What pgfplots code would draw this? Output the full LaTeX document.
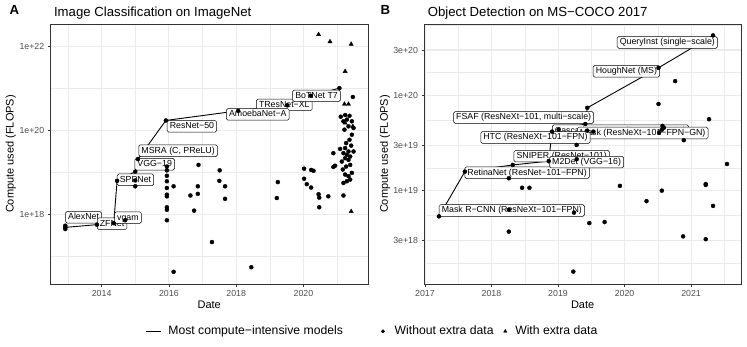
\documentclass[border=0pt]{standalone}
\usepackage{pgfplots}
\pgfplotsset{compat=1.18}
\usepackage{fontspec}
\setmainfont{Liberation Sans}
\definecolor{gridc}{HTML}{EBEBEB}
\definecolor{gtw}{HTML}{333333}
\definecolor{gth}{HTML}{4D4D4D}
\tikzset{lab/.style={draw=black, fill=white, rounded corners=1.5pt, line width=0.5pt,
  inner xsep=2.6pt, inner ysep=1.8pt, text height=6.4pt, text depth=1.6pt,
  font=\fontsize{8.8}{10}\selectfont, anchor=west}}
\pgfplotsset{
 base/.style={
  scale only axis, height=260pt,
  axis line style={gtw, line width=0.5pt},
  tick style={gtw, line width=0.5pt},
  major tick length=2.75pt, minor tick length=0pt, tick align=outside,
  xtick pos=bottom, ytick pos=left,
  xmajorgrids, ymajorgrids, xminorgrids, yminorgrids,
  major grid style={gridc, line width=1.07pt},
  minor grid style={gridc, line width=0.53pt},
  ticklabel style={font=\fontsize{8.8}{10}\selectfont, text=gth},
  xlabel={Date}, ylabel={Compute used (FLOPS)},
  every axis x label/.style={at={(axis description cs:0.5,-0.081)}, anchor=center, font=\fontsize{11}{13}\selectfont},
  every axis y label/.style={at={(axis description cs:-0.125,0.5)}, rotate=90, anchor=center, font=\fontsize{11}{13}\selectfont},
  clip=true,
 },
 dots/.style={only marks, mark=*, mark size=2pt, mark options={draw=black, fill=black}, forget plot},
 tris/.style={only marks, mark=triangle*, mark size=2.4pt, mark options={draw=black, fill=black}, forget plot},
 front/.style={black, line width=0.9pt, mark=none, forget plot},
 legline/.style={legend image code/.code={\path[draw=none, fill=none] (0pt,0pt) -- (22.7pt,0pt); \draw[black, line width=0.9pt] (0pt,0pt) -- (15pt,0pt);}},
 legdot/.style={legend image code/.code={\path[draw=none, fill=none] (0pt,0pt) -- (23.4pt,0pt); \draw[##1] plot coordinates {(11.7pt,0pt)};}},
 legtri/.style={legend image code/.code={\path[draw=none, fill=none] (0pt,0pt) -- (20pt,0pt); \draw[##1] plot coordinates {(10pt,0pt)};}},
}
\begin{document}
\begin{tikzpicture}
\useasboundingbox (0,0) rectangle (747pt,347pt);
\node[anchor=base west, font=\bfseries\fontsize{13.2}{15}\selectfont] at (6pt,332pt) {A};
\node[anchor=base west, font=\fontsize{13.2}{15}\selectfont] at (50.5pt,330.5pt) {Image Classification on ImageNet};
\node[anchor=base west, font=\bfseries\fontsize{13.2}{15}\selectfont] at (377pt,332pt) {B};
\node[anchor=base west, font=\fontsize{13.2}{15}\selectfont] at (424.3pt,330.5pt) {Object Detection on MS−COCO 2017};

% ---------------- Panel A ----------------
\begin{axis}[base, at={(50.5pt,63pt)}, anchor=south west, width=317.5pt,
  xmin=2012.48, xmax=2021.92, ymin=16.34, ymax=22.54,
  xtick={2014,2016,2018,2020}, xticklabels={2014,2016,2018,2020},
  minor xtick={2013,2015,2017,2019,2021},
  ytick={18,20,22}, yticklabels={1e+18,1e+20,1e+22},
  minor ytick={17,19,21},
  legend columns=3,
  legend style={at={(axis description cs:0.2976,-0.182)}, anchor=west, draw=none, fill=none,
    font=\fontsize{12.2}{14}\selectfont, inner sep=0pt, nodes={inner sep=0pt},
    /tikz/column 2/.style={column sep=28.3pt},
    /tikz/column 4/.style={column sep=1.6pt}},
  legend cell align=left,
]
\addlegendimage{legline}
\addlegendentry{Most compute−intensive models}
\addlegendimage{only marks, mark=*, mark size=1.65pt, mark options={draw=black, fill=black}, legdot}
\addlegendentry{Without extra data}
\addlegendimage{only marks, mark=triangle*, mark size=1.9pt, mark options={draw=black, fill=black}, legtri}
\addlegendentry{With extra data}

\addplot[front] coordinates {(2012.92,17.69) (2013.86,17.755) (2014.36,17.79) (2014.46,18.80) (2015.00,19.02) (2015.08,19.32) (2015.91,20.24) (2018.06,20.47) (2019.52,20.60) (2020.22,20.83) (2021.07,21.01)};

\node[lab] at (axis cs:2012.92,17.93) {AlexNet};
\node[lab] at (axis cs:2013.863,17.779) {ZFNet};
\node[lab] at (axis cs:2014.377,17.921) {vgam};
\node[lab] at (axis cs:2014.457,18.826) {SPPNet};
\node[lab] at (axis cs:2014.980,19.195) {VGG−19};
\node[lab] at (axis cs:2015.099,19.517) {MSRA (C, PReLU)};
\node[lab] at (axis cs:2015.942,20.10) {ResNet−50};
\node[lab] at (axis cs:2018.595,20.612) {TResNet−XL};
\node[lab] at (axis cs:2017.704,20.386) {AmoebaNet−A};
\node[lab] at (axis cs:2019.673,20.826) {BoTNet T7};

\addplot[dots] coordinates {(2012.92,17.69) (2013.86,17.755) (2014.36,17.79) (2014.46,18.80) (2015.00,19.02) (2015.08,19.32) (2015.91,20.24) (2018.06,20.47) (2019.52,20.60) (2020.22,20.83) (2021.07,21.01)};
\addplot[dots] coordinates {
(2012.92,17.73) (2012.92,17.65) (2014.70,17.86)
(2015.00,18.81) (2015.00,18.67)
(2015.94,19.14) (2015.94,19.05) (2015.94,18.92) (2015.94,18.79) (2015.94,18.63) (2015.94,18.47) (2015.94,18.43) (2015.94,18.17) (2015.94,18.11) (2015.94,17.86)
(2016.14,18.67) (2016.14,16.63) (2016.88,19.18) (2016.64,18.45) (2016.75,18.09) (2016.86,18.67) (2016.86,18.49)
(2017.51,19.05) (2017.50,18.80) (2017.67,18.67) (2017.67,18.37) (2017.28,17.34) (2018.45,16.74)
(2019.24,18.77) (2019.21,18.39)
(2020.02,19.09) (2020.02,18.85) (2020.10,18.72) (2020.23,19.06) (2020.30,19.04) (2020.23,18.64) (2020.45,18.48) (2020.47,18.40) (2020.47,18.17) (2020.74,18.43) (2021.19,18.45)
(2021.47,20.80) (2021.11,20.33) (2021.24,20.37) (2021.37,20.35) (2021.29,20.26) (2021.19,20.22) (2021.44,20.22) (2021.34,20.10) (2021.22,20.02) (2021.49,20.06)
(2021.44,19.90) (2021.37,19.78) (2021.27,19.70) (2021.42,19.64) (2021.24,19.58) (2021.09,19.56) (2021.34,19.50) (2021.49,19.50) (2021.19,19.46) (2021.29,19.42)
(2021.39,19.38) (2020.89,19.46) (2021.24,19.34) (2021.34,19.30) (2021.14,19.26) (2020.94,19.16) (2020.89,19.13) (2021.27,19.14) (2021.39,19.18) (2021.17,19.07)
(2021.44,18.99) (2021.24,18.95) (2021.39,18.83) (2021.29,18.79) (2021.19,18.75) (2021.34,18.91)
};
\addplot[tris] coordinates {(2020.45,22.29) (2020.79,22.12) (2021.42,22.06) (2021.24,21.41) (2021.22,20.63) (2021.34,20.63) (2021.24,20.18) (2021.47,20.10) (2021.42,18.07)};
\end{axis}

% ---------------- Panel B ----------------
\begin{axis}[base, at={(424.3pt,63pt)}, anchor=south west, width=316.7pt,
  xmin=2016.99, xmax=2021.75, ymin=18.02, ymax=20.75,
  xtick={2017,2018,2019,2020,2021}, xticklabels={2017,2018,2019,2020,2021},
  minor xtick={2017.5,2018.5,2019.5,2020.5,2021.5},
  ytick={18.4771,19,19.4771,20,20.4771}, yticklabels={3e+18,1e+19,3e+19,1e+20,3e+20},
  minor ytick={18.2386,18.7386,19.2386,19.7386,20.2386,20.7386},
  every axis y label/.style={at={(axis description cs:-0.124,0.5)}, rotate=90, anchor=center, font=\fontsize{11}{13}\selectfont},
]
\addplot[front] coordinates {(2017.21,18.73) (2017.60,19.20) (2018.32,19.27) (2018.86,19.31) (2018.91,19.62) (2019.41,19.70) (2019.44,19.87) (2020.51,20.29) (2021.33,20.63)};

\node[lab] at (axis cs:2017.210,18.792) {Mask R−CNN (ResNeXt−101−FPN)};
\node[lab] at (axis cs:2017.595,19.189) {RetinaNet (ResNet−101−FPN)};
\node[lab] at (axis cs:2018.334,19.362) {SNIPER (ResNet−101)};
\node[lab] at (axis cs:2018.870,19.299) {M2Det (VGG−16)};
\node[lab] at (axis cs:2018.910,19.630) {Cascade R−CNN (ResNeXt−101)};
\node[lab, anchor=east] at (axis cs:2021.258,19.605) {Mask (ResNeXt−101−FPN−GN)};
\node[lab] at (axis cs:2017.835,19.558) {HTC (ResNeXt−101−FPN)};
\node[lab] at (axis cs:2017.426,19.768) {FSAF (ResNeXt−101, multi−scale)};
\node[lab] at (axis cs:2019.525,20.252) {HoughNet (MS)};
\node[lab] at (axis cs:2019.885,20.556) {QueryInst (single−scale)};

\addplot[dots] coordinates {(2017.21,18.73) (2017.60,19.20) (2018.32,19.27) (2018.86,19.31) (2018.91,19.62) (2019.41,19.70) (2019.44,19.87) (2020.51,20.29) (2021.33,20.63)};
\addplot[dots] coordinates {
(2018.26,19.13) (2018.26,18.80) (2018.26,18.57) (2018.46,19.03) (2018.57,19.03)
(2019.24,18.77) (2019.47,18.66) (2019.70,18.67) (2019.23,18.15) (2019.93,19.05)
(2020.33,18.89) (2020.56,19.00) (2020.88,18.52) (2021.22,19.07) (2021.22,19.06) (2021.22,18.49) (2021.33,18.84) (2021.54,19.28)
(2019.01,19.64) (2019.44,19.63) (2019.53,19.62) (2019.28,19.48) (2019.28,19.33)
(2020.76,20.15) (2020.51,19.91) (2021.27,19.75) (2020.57,19.68) (2020.59,19.66) (2020.56,19.64) (2020.52,19.61) (2020.89,19.53)
};
\end{axis}
\end{tikzpicture}
\end{document}
